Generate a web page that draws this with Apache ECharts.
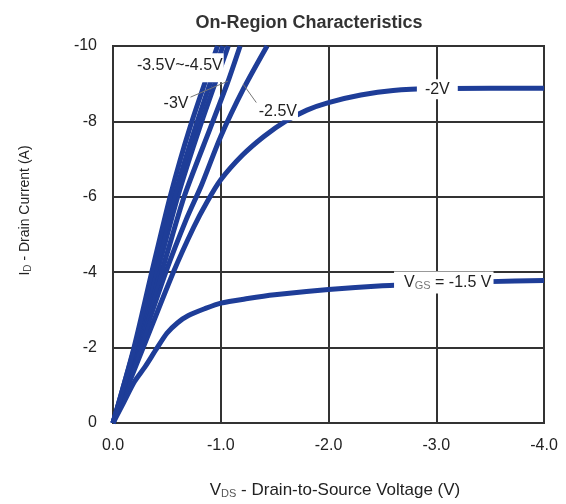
<!DOCTYPE html>
<html><head><meta charset="utf-8">
<script src="https://cdn.jsdelivr.net/npm/echarts@6/dist/echarts.min.js"></script>
<style>html,body{margin:0;padding:0;background:#fff}#c{width:566px;height:504px}</style>
</head><body><div id="c"></div>
<script>
// V_DS (V) and I_D (A) per gate voltage curve
const v_15 = [0,-0.1,-0.2,-0.3,-0.4,-0.5,-0.6,-0.7,-0.85,-1.0,-1.25,-1.5,-2.0,-2.5,-3.0,-3.5,-4.0];
const i_15 = [0,-0.55,-1.1,-1.5,-1.95,-2.38,-2.66,-2.85,-3.03,-3.18,-3.3,-3.4,-3.54,-3.64,-3.7,-3.75,-3.78];
const v_20 = [0,-0.28,-0.56,-0.75,-0.87,-1.0,-1.2,-1.4,-1.6,-1.8,-2.0,-2.3,-2.6,-3.0,-3.5,-4.0];
const i_20 = [0,-2,-4,-5.2,-5.85,-6.45,-7.1,-7.6,-8.0,-8.3,-8.5,-8.7,-8.82,-8.87,-8.88,-8.88];
const v_25 = [0,-0.25,-0.49,-0.68,-0.82,-1.0,-1.21,-1.43];
const i_25 = [0,-2,-4,-5.4,-6.3,-7.6,-8.86,-10];
const v_30 = [0,-0.22,-0.45,-0.66,-0.9,-1.06,-1.18];
const i_30 = [0,-2,-4,-6,-7.8,-9.0,-10];
const v_35 = [0,-0.21,-0.41,-0.6,-0.8,-1.07];
const i_35 = [0,-2,-4,-6,-7.8,-10];
const v_40 = [0,-0.2,-0.39,-0.57,-0.76,-1.02];
const i_40 = [0,-2,-4,-6,-7.8,-10];
const v_45 = [0,-0.195,-0.36,-0.53,-0.71,-0.97];
const i_45 = [0,-2,-4,-6,-7.8,-10];

const xTicks = [0,-1,-2,-3,-4];
const yTicks = [0,-2,-4,-6,-8,-10];

// curve labels: [V, I, text]
const labelPos = [
  [-0.62,-9.42,'-3.5V~-4.5V'],
  [-0.585,-8.48,'-3V'],
  [-1.53,-8.27,'-2.5V'],
  [-3.01,-8.85,'-2V'],
  [-3.07,-3.73,'V{s|GS} = -1.5 V']
];
// leader lines: [[V1,I1],[V2,I2]]
const leaders = [
  [[-0.7,-8.62],[-1.068,-9.07]],
  [[-1.207,-8.99],[-1.33,-8.5]]
];

const curves = [[v_15,i_15],[v_20,i_20],[v_25,i_25],[v_30,i_30],[v_35,i_35],[v_40,i_40],[v_45,i_45]];
const blue = '#1e3d98';
const font = 'Liberation Sans, Arial, sans-serif';

const series = curves.map(([v,i]) => ({
  type:'line', data: v.map((x,k)=>[x,i[k]]), showSymbol:false, smooth:0.25,
  lineStyle:{color:blue,width:5}, z:3, silent:true, animation:false
}));
leaders.forEach(l => series.push({
  type:'line', data:l, showSymbol:false, lineStyle:{color:'#777',width:1}, z:4, animation:false
}));
const pads = [[4,1,9,1],[1,2,1,2],[1,1,1,1],[2,8,2,8],[2,2,2,10]];
series.push({
  type:'scatter', symbolSize:0, z:10, animation:false, itemStyle:{opacity:1},
  data: labelPos.map((p,k)=>({value:[p[0],p[1]], name:p[2], label:{padding:pads[k]}})),
  label:{show:true, position:'inside', formatter:p=>p.name, color:'#222', fontSize:16, fontFamily:font,
    backgroundColor:'#ffffff',
    rich:{s:{fontSize:11, color:'#777', fontFamily:font, verticalAlign:'bottom', padding:[7,0,0,0]}}}
});

const chart = echarts.init(document.getElementById('c'), null, {renderer:'canvas'});
chart.setOption({
  animation:false,
  backgroundColor:'#fff',
  title:{text:'On-Region Characteristics', left:304, top:9, textAlign:'center',
    textStyle:{fontSize:18, fontWeight:'bold', color:'#333', fontFamily:font}},
  grid:{left:113, right:22, top:46, bottom:81, show:true, borderColor:'#333', borderWidth:2},
  xAxis:{type:'value', min:-4, max:0, interval:1, inverse:true,
    axisLine:{show:true, lineStyle:{color:'#333',width:2}}, axisTick:{show:false},
    splitLine:{show:true, lineStyle:{color:'#333',width:2}},
    axisLabel:{formatter:v=>v.toFixed(1), color:'#222', fontSize:16, fontFamily:font, margin:15},
    name:'V{s|DS} - Drain-to-Source Voltage (V)', nameLocation:'middle', nameGap:58,
    nameTextStyle:{color:'#222', fontSize:17, fontFamily:font, padding:[0,0,0,13],
      rich:{s:{fontSize:11, color:'#555', fontFamily:font, verticalAlign:'bottom', padding:[7,0,0,0]}}}
  },
  yAxis:{type:'value', min:-10, max:0, interval:2, inverse:true,
    axisLine:{show:true, lineStyle:{color:'#333',width:2}}, axisTick:{show:false},
    splitLine:{show:true, lineStyle:{color:'#333',width:2}},
    axisLabel:{color:'#222', fontSize:16, fontFamily:font, margin:16},
    name:'I{s|D} - Drain Current (A)', nameLocation:'middle', nameGap:80,
    nameTextStyle:{color:'#222', fontSize:14, fontFamily:font, padding:[0,0,0,48],
      rich:{s:{fontSize:10, color:'#555', fontFamily:font, verticalAlign:'bottom', padding:[6,0,0,0]}}}
  },
  series: series
});
</script></body></html>
